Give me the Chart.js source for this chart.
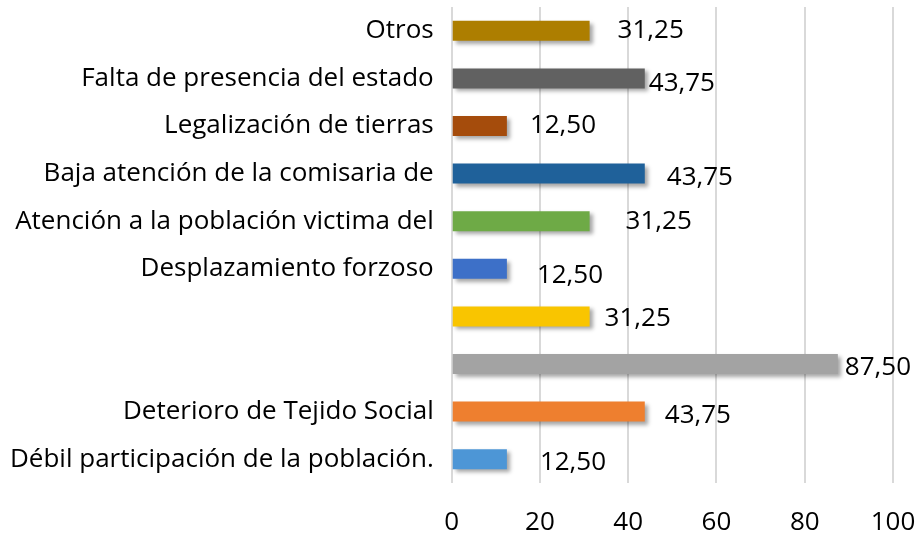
<!DOCTYPE html>
<html>
<head>
<meta charset="utf-8">
<script src="https://cdn.jsdelivr.net/npm/chart.js@4.4.0/dist/chart.umd.min.js"></script>
<style>
  html, body { margin: 0; padding: 0; background: #fff; }
  #wrap { width: 916px; height: 537px; }
</style>
</head>
<body>
<div id="wrap"><canvas id="chart"></canvas></div>
<script>
// Categories, top to bottom
const categories = [
    'Otros',
    'Falta de presencia del estado',
    'Legalización de tierras',
    'Baja atención de la comisaria de',
    'Atención a la población victima del',
    'Desplazamiento forzoso',
    '',
    '',
    'Deterioro de Tejido Social',
    'Débil participación de la población.'
];
const values = [31.25, 43.75, 12.50, 43.75, 31.25, 12.50, 31.25, 87.50, 43.75, 12.50];
const xTicks = [0, 20, 40, 60, 80, 100];

// bar colours (top, bottom of gradient)
const barTop = ['#c09a3c', '#8c8c8c', '#c06e42', '#5089bd', '#93c66f', '#6f9be0', '#ffd659', '#c8c8c8', '#f7a86d', '#86bbe9'];
const barBottom = ['#ad7e00', '#616161', '#a54c0c', '#1f619a', '#6eaa46', '#3d70c8', '#f9c500', '#a3a3a3', '#ee7f2f', '#4d96d6'];
// per-label horizontal gap and vertical shift, as in the original
const labelGap = [28, 4, 23, 22, 36, 30, 15, 7, 20, 33];
const labelDrop = [0, 5, 0, 4, 0, 7, 2, 4, 4, 3];

const FONT = '"Open Sans", "Noto Sans", sans-serif';
const FSIZE = 26;

const shadowPlugin = {
    id: 'barShadow',
    beforeDatasetsDraw(chart) {
        const c = chart.ctx;
        c.save();
        c.shadowColor = 'rgba(0,0,0,0.35)';
        c.shadowBlur = 4;
        c.shadowOffsetX = 3;
        c.shadowOffsetY = 3;
    },
    afterDatasetsDraw(chart) {
        chart.ctx.restore();
    }
};

const labelPlugin = {
    id: 'valueLabels',
    afterDatasetsDraw(chart) {
        const c = chart.ctx;
        const meta = chart.getDatasetMeta(0);
        c.save();
        c.font = FSIZE + 'px ' + FONT;
        c.fillStyle = '#000';
        c.textBaseline = 'middle';
        c.textAlign = 'left';
        meta.data.forEach((bar, i) => {
            const txt = values[i].toFixed(2).replace('.', ',');
            c.fillText(txt, bar.x + labelGap[i], bar.y + labelDrop[i]);
        });
        c.restore();
    }
};

function barFill(context) {
    const i = context.dataIndex;
    const el = context.chart.getDatasetMeta(0).data[i];
    if (!el || el.y === undefined || isNaN(el.y)) return barBottom[i];
    const h = el.height || 20;
    const g = context.chart.ctx.createLinearGradient(0, el.y - h / 2, 0, el.y + h / 2);
    g.addColorStop(0, barTop[i]);
    g.addColorStop(1, barBottom[i]);
    return g;
}

new Chart(document.getElementById('chart'), {
    type: 'bar',
    data: {
        labels: categories,
        datasets: [{
            data: values,
            backgroundColor: barFill,
            borderWidth: 0,
            categoryPercentage: 1,
            barPercentage: 0.42
        }]
    },
    options: {
        indexAxis: 'y',
        responsive: true,
        maintainAspectRatio: false,
        animation: false,
        layout: { padding: 0 },
        plugins: {
            legend: { display: false },
            tooltip: { enabled: false }
        },
        scales: {
            x: {
                min: 0,
                max: 100,
                afterBuildTicks: axis => { axis.ticks = xTicks.map(v => ({ value: v })); },
                afterFit: axis => {
                    axis.height = 54;
                    axis.paddingRight = 23;
                    axis.paddingLeft = 0;
                },
                grid: { color: '#d9d9d9', lineWidth: 2, drawTicks: false },
                border: { display: false },
                ticks: {
                    color: '#000',
                    padding: 24,
                    font: { family: FONT, size: FSIZE }
                }
            },
            y: {
                afterFit: axis => {
                    axis.paddingTop = 7;
                    axis.paddingBottom = 0;
                },
                grid: { display: false },
                border: { display: false },
                ticks: {
                    color: '#000',
                    padding: 10,
                    autoSkip: false,
                    font: { family: FONT, size: FSIZE }
                }
            }
        }
    },
    plugins: [shadowPlugin, labelPlugin]
});
</script>
</body>
</html>
